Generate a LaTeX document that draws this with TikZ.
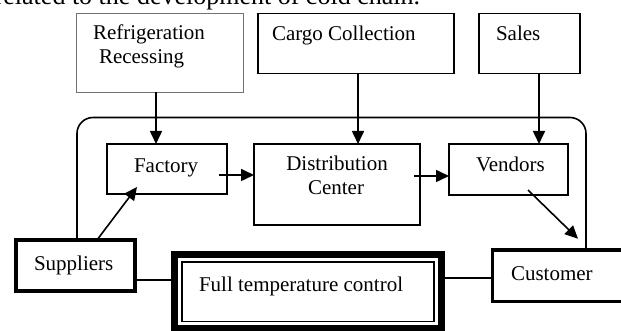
\documentclass[tikz,border=0pt]{standalone}
\usepackage{fontspec}
\setmainfont{Liberation Serif}
\usetikzlibrary{arrows.meta,calc}
\begin{document}
\begin{tikzpicture}[x=1pt,y=-1pt,
  every node/.style={inner sep=0pt,outer sep=0pt},
  txt/.style={font=\fontsize{21}{24}\selectfont,anchor=base west},
  box/.style={draw,line width=1.6pt,rectangle},
  arr/.style={line width=1.6pt,-{Triangle[length=13pt,width=12pt]}},
  ln/.style={line width=1.6pt}]
\useasboundingbox (0,0) rectangle (621,331);
% top partial sentence
\node[font=\fontsize{26}{30}\selectfont,anchor=base east] (top) at (420,5) {related to the development of cold chain.};
% boxes
\node[draw=black!55,line width=1.2pt,minimum width=167pt,minimum height=79pt] (ref) at (160,53) {};
\node[box,minimum width=196pt,minimum height=60pt] (cargo) at (356,43.5) {};
\node[box,minimum width=101pt,minimum height=60pt] (sales) at (529.5,43.5) {};
\node[box,minimum width=120pt,minimum height=50pt] (fac) at (167,169) {};
\node[box,minimum width=166pt,minimum height=81pt] (dc) at (337,184.5) {};
\node[box,minimum width=119pt,minimum height=51pt] (ven) at (508.5,169.5) {};
\node[draw,line width=4pt,minimum width=119pt,minimum height=51pt] (sup) at (75.5,265.5) {};
\node[draw,line width=7pt,minimum width=267pt,minimum height=74pt] (full) at (308,291.5) {};
\draw[line width=1.5pt] ([shift={(7.5,7.5)}]full.north west) rectangle ([shift={(-7.5,-7)}]full.south east);
\node[draw,line width=3.5pt,minimum width=156pt,minimum height=51.5pt] (cus) at (570.5,275.5) {};
% texts
\node[txt] (t1) at (93,40) {Refrigeration};
\node[txt] (t2) at (99,64) {Recessing};
\node[txt] (t3) at (272,41) {Cargo Collection};
\node[txt] (t4) at (496,41) {Sales};
\node[txt] (t5) at (134,173) {Factory};
\node[txt,anchor=base] (t6) at (337,171) {Distribution};
\node[txt,anchor=base] (t7) at (336,195) {Center};
\node[txt] (t8) at (476,172) {Vendors};
\node[txt] (t9) at (34,270) {Suppliers};
\node[txt] (t10) at (199,291) {Full temperature control};
\node[txt] (t11) at (511,280) {Customer};
% loop
\coordinate (tl) at (77,117.5);
\coordinate (tr) at (586,117.5);
\draw[ln,rounded corners=16pt] (sup.north -| tl) -- (tl) -- (tr) -- (cus.north -| tr);
% vertical feeds
\coordinate (fx) at (156,0);
\coordinate (cx) at (358,0);
\coordinate (sx) at (539,0);
\draw[arr] (ref.south -| fx) -- (fac.north -| fx);
\draw[arr] (cargo.south -| cx) -- (dc.north -| cx);
\draw[arr] (sales.south -| sx) -- (ven.north -| sx);
% horizontal flow
\coordinate (a1) at ([xshift=-8pt,yshift=-6pt]fac.east);
\draw[arr] (a1) -- (dc.west |- a1);
\coordinate (a2) at ([yshift=-6.5pt]ven.west);
\draw[arr] ([xshift=-6pt]dc.east |- a2) -- (a2);
\draw[arr] ([xshift=19.5pt,yshift=5pt]ven.south) -- ([xshift=7.5pt,yshift=11pt]cus.north);
\draw[arr] ([xshift=21.5pt]sup.north) -- ([xshift=-30pt,yshift=7pt]fac.south);
% bottom links
\coordinate (b1) at ([yshift=-14.5pt]sup.east);
\draw[ln] (b1) -- (full.west |- b1);
\coordinate (b2) at ([yshift=-2.5pt]cus.west);
\draw[ln] (full.east |- b2) -- (b2);
\end{tikzpicture}
\end{document}
